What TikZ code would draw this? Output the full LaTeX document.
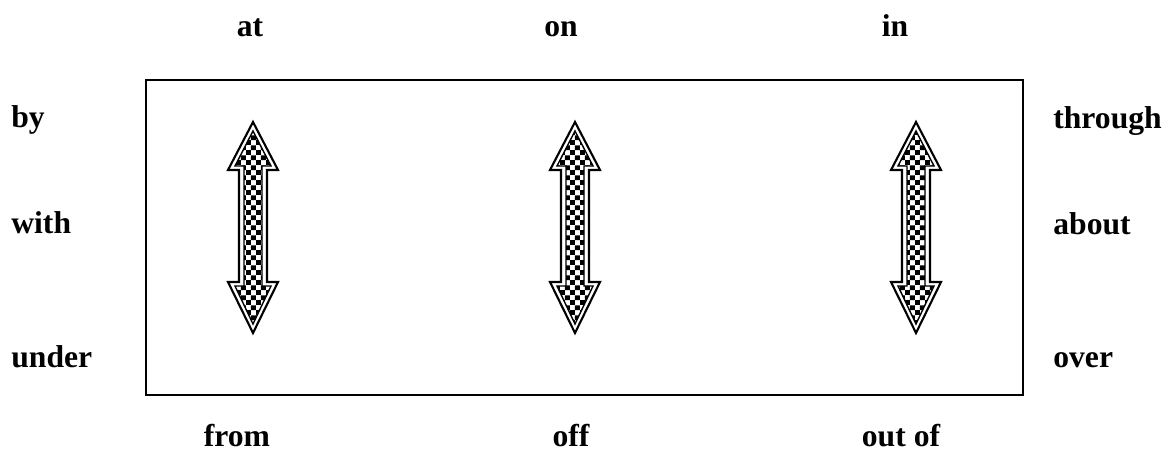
\documentclass[tikz,border=0pt]{standalone}
\usepackage{fontspec}
\setmainfont{Liberation Serif}
\usepackage{tikz}
\usetikzlibrary{patterns}

% small chequer for the arrows
\pgfdeclarepatternformonly{finechecker}{\pgfpointorigin}{\pgfqpoint{5.6pt}{5.6pt}}{\pgfqpoint{5.6pt}{5.6pt}}{%
  \pgfpathrectangle{\pgfpointorigin}{\pgfqpoint{2.8pt}{2.8pt}}%
  \pgfpathrectangle{\pgfqpoint{2.8pt}{2.8pt}}{\pgfqpoint{2.8pt}{2.8pt}}%
  \pgfusepath{fill}}

\tikzset{
  word/.style={font=\fontsize{18}{22}\selectfont\bfseries, inner sep=0pt, anchor=base},
  leftword/.style={word, anchor=base west}
}

\begin{document}
\begin{tikzpicture}[x=0.02cm, y=-0.02cm]
  \useasboundingbox (0,0) rectangle (1173,452);
  % frame
  \draw[line width=0.9pt] (146,80) rectangle (1023,395);
  % double headed chequered arrows
  \foreach \c in {253,575,916} {
    \draw[line width=1.2pt, line join=miter]
      (\c,122) -- (\c+25,170) -- (\c+14,170) -- (\c+14,282) -- (\c+25,282)
      -- (\c,333) -- (\c-25,282) -- (\c-14,282) -- (\c-14,170) -- (\c-25,170) -- cycle;
    \draw[line width=0.8pt, pattern=finechecker, pattern color=black]
      (\c,131) -- (\c+18,166) -- (\c+9,166) -- (\c+9,286) -- (\c+18,286)
      -- (\c,324) -- (\c-18,286) -- (\c-9,286) -- (\c-9,166) -- (\c-18,166) -- cycle;
  }
  % words round the frame
  \node[word] (at) at (250,37) {at};
  \node[word] (on) at (561,37) {on};
  \node[word] (in) at (895,37) {in};
  \node[leftword] (by) at (11,128) {by};
  \node[leftword] (with) at (11,234) {with};
  \node[leftword] (under) at (11,368) {under};
  \node[leftword] (through) at (1053,129) {through};
  \node[leftword] (about) at (1053,235) {about};
  \node[leftword] (over) at (1053,368) {over};
  \node[word] (from) at (237,446) {from};
  \node[word] (off) at (571,446) {off};
  \node[word] (outof) at (901,446) {out of};
\end{tikzpicture}
\end{document}
